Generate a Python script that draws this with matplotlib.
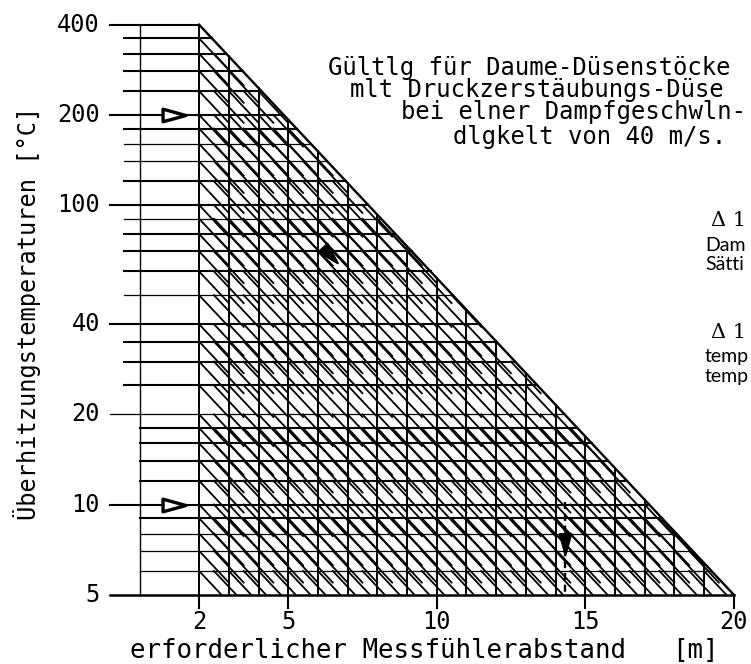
import matplotlib
matplotlib.use("Agg")
import matplotlib.pyplot as plt
import numpy as np
from matplotlib.path import Path
from matplotlib.patches import Polygon

# Nomogramm: Ueberhitzungstemperatur -> Messfuehlerabstand
X_LEFT, X_RIGHT = 2, 20        # Dreieck unten von 2 m bis 20 m
T_TOP, T_BOTTOM = 400, 5       # Dreieck von 400 C bis 5 C

x_grid = list(range(2, 21))
y_major = [5, 10, 20, 40, 100, 200, 400]
y_minor_long = [25, 30, 35, 50, 60, 70, 80, 90, 120, 140, 160, 180, 240, 280, 320, 360]
y_minor_short = [6, 7, 8, 9, 12, 14, 16, 18]
y_thin = [6, 7, 8, 20, 50, 90, 140, 160]

x_ticks = [2, 5, 10, 15, 20]
y_ticks = [5, 10, 20, 40, 100, 200, 400]

# Ablesebeispiel (Pfeile)
arrow_right_temps = [200, 10]
arrow_right_x = 1.14
arrow_diag_pos = (6.4, 68)
arrow_down_pos = (14.32, 7.4)
dashed_x = 14.32
dashed_temps = [10.2, 5]

title_lines = ["Gültlg für Daume-Düsenstöcke",
               "mlt Druckzerstäubungs-Düse",
               "bei elner Dampfgeschwln-",
               "dlgkelt von 40 m/s."]

MONO = "DejaVu Sans Mono"


def y_diag(x):
    return T_TOP * (T_BOTTOM / T_TOP) ** ((x - X_LEFT) / (X_RIGHT - X_LEFT))


def x_diag(y):
    return X_LEFT + (X_RIGHT - X_LEFT) * np.log(T_TOP / y) / np.log(T_TOP / T_BOTTOM)


fig = plt.figure(figsize=(7.51, 6.64), dpi=100)
ax = fig.add_axes([0, 0, 1, 1])
ax.set_yscale("log")
ax.set_xlim(-139.7 / 29.7, (751 - 139.7) / 29.7)
ax.set_ylim(100 * 2 ** ((205 - 664) / 90.16), 100 * 2 ** (205 / 90.16))
ax.axis("off")

# Dreieck-Umriss
ax.plot([X_LEFT, X_RIGHT], [T_TOP, T_BOTTOM], color="black", lw=1.7)
ax.plot([-1, X_RIGHT], [T_BOTTOM, T_BOTTOM], color="black", lw=1.8)
ax.plot([0, 0], [T_BOTTOM, T_TOP], color="black", lw=1.0)

# vertikale Linien
for x in x_grid[:-1]:
    ax.plot([x, x], [T_BOTTOM, y_diag(x)], color="black", lw=1.4)

all_rows = y_major + y_minor_long + y_minor_short

# horizontale Linien
for y in all_rows:
    if y == T_BOTTOM:
        continue
    if y in y_major:
        start = -1
    elif y in y_minor_long:
        start = -0.53
    else:
        start = 0
    lw = 0.9 if y in y_thin else 1.5
    ax.plot([start, x_diag(y)], [y, y], color="black", lw=lw)

# Schraffur parallel zur Diagonale, ab Kreuzungspunkten und Feldmitten
tri = Polygon([(X_LEFT, T_TOP), (X_RIGHT, T_BOTTOM), (X_LEFT, T_BOTTOM)],
              closed=True, transform=ax.transData, fill=False, edgecolor="none")
ax.add_patch(tri)
step = (T_BOTTOM / T_TOP) ** (1 / (X_RIGHT - X_LEFT))
for x in x_grid[:-1]:
    for x0 in (x, x + 0.5):
        for y in all_rows:
            if T_BOTTOM < y < y_diag(x0) * 0.99:
                ln, = ax.plot([x0, x0 + 1], [y, y * step], color="black", lw=1.3)
                ln.set_clip_path(tri)

# Achsenstriche und Beschriftung
for x in x_ticks:
    ax.plot([x, x], [T_BOTTOM, 4.5], color="black", lw=1.5)
    ax.text(x, 4.04, str(x), ha="center", va="center", family=MONO, fontsize=17)
for y in y_ticks:
    ax.text(-1.34, y, str(y), ha="right", va="center", family=MONO, fontsize=17)

ax.text(-3.79, 43.6, "Überhitzungstemperaturen [°C]", rotation=90,
        ha="center", va="center", family=MONO, fontsize=17)
ax.text(-0.33, 3.24, "erforderlicher Messfühlerabstand", ha="left", va="center",
        family=MONO, fontsize=18.5)
ax.text(17.93, 3.24, "[m]", ha="left", va="center", family=MONO, fontsize=18.5)

# Titeltext rechts oben
title_x = [6.34, 7.08, 8.80, 10.55]
title_y = [287, 242, 204, 169]
for tx, ty, s in zip(title_x, title_y, title_lines):
    ax.text(tx, ty, s, ha="left", va="center", family=MONO, fontsize=17.2)

# abgeschnittene Legende am rechten Rand
ax.text(19.22, 89, "Δ 1", ha="left", va="center", family="DejaVu Serif", fontsize=15)
ax.text(19.03, 73.5, "Dam", ha="left", va="center", family="Lato", fontsize=14)
ax.text(19.03, 63.1, "Sätti", ha="left", va="center", family="Lato", fontsize=14)
ax.text(19.22, 37.4, "Δ 1", ha="left", va="center", family="DejaVu Serif", fontsize=15)
ax.text(19.03, 31.1, "temp", ha="left", va="center", family="Lato", fontsize=14)
ax.text(19.03, 26.7, "temp", ha="left", va="center", family="Lato", fontsize=14)


# Pfeilspitzen
def arrow_marker(angle_deg):
    pts = np.array([[-1, -0.55], [1, 0], [-1, 0.55], [-1, -0.55]])
    a = np.radians(angle_deg)
    rot = np.array([[np.cos(a), -np.sin(a)], [np.sin(a), np.cos(a)]])
    pts = pts @ rot.T
    return Path(pts, [Path.MOVETO, Path.LINETO, Path.LINETO, Path.CLOSEPOLY])


for t in arrow_right_temps:
    ax.plot(arrow_right_x, t, marker=arrow_marker(0), ms=16.5,
            mfc="white", mec="black", mew=2.4)
ax.plot(*arrow_diag_pos, marker=arrow_marker(-46.8), ms=17,
        mfc="black", mec="black", mew=1.5)
ax.plot([dashed_x, dashed_x], dashed_temps, color="black", lw=1.7, ls=(0, (3, 2)))
ax.plot(*arrow_down_pos, marker=arrow_marker(-90), ms=15,
        mfc="black", mec="black", mew=1.5)

fig.savefig("out.png", dpi=100)
